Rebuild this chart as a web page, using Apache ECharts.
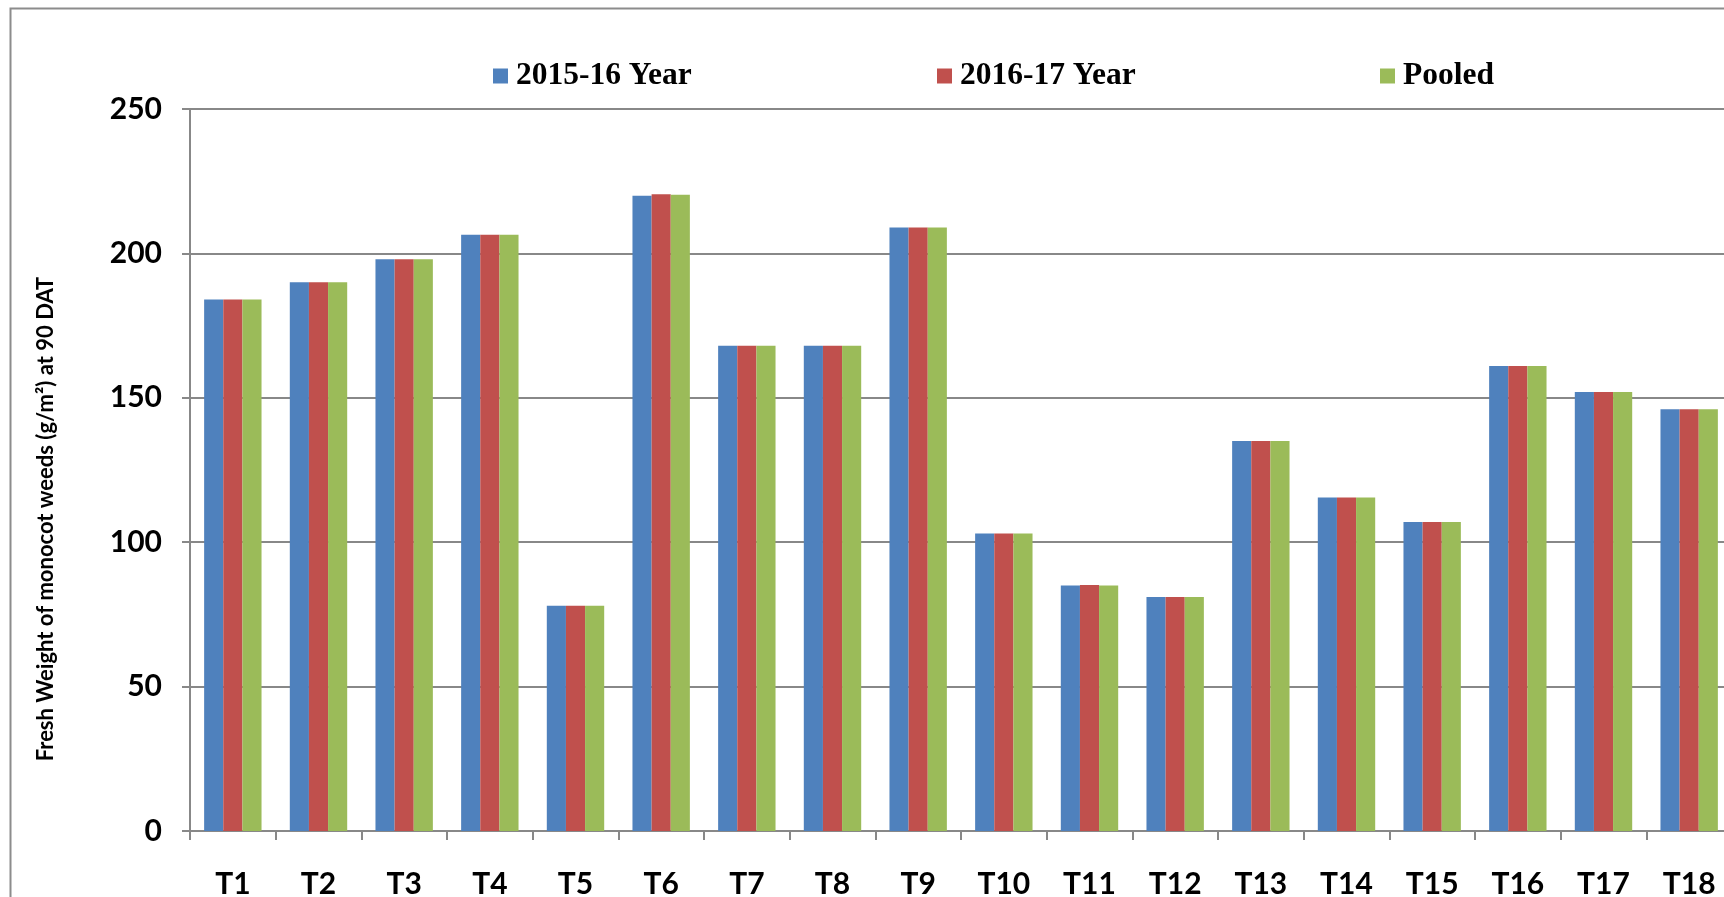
<!DOCTYPE html>
<html>
<head>
<meta charset="utf-8">
<script src="https://cdn.jsdelivr.net/npm/echarts@6/dist/echarts.min.js"></script>
<style>
  body { margin: 0; background: #fff; }
  #main { width: 1724px; height: 897px; }
</style>
</head>
<body>
<div id="main"></div>
<script>
var categories = ['T1','T2','T3','T4','T5','T6','T7','T8','T9','T10','T11','T12','T13','T14','T15','T16','T17','T18'];
var year1516 = [184, 190, 198, 206.5, 78, 220, 168, 168, 209, 103, 85, 81, 135, 115.5, 107, 161, 152, 146];
var year1617 = [184, 190, 198, 206.5, 78, 220.5, 168, 168, 209, 103, 85.2, 81, 135, 115.5, 107, 161, 152, 146];
var pooled = [184, 190, 198, 206.5, 78, 220.3, 168, 168, 209, 103, 85, 81, 135, 115.5, 107, 161, 152, 146];
var seriesNames = ['2015-16 Year', '2016-17 Year', 'Pooled'];
var colors = ['#4F81BD', '#C0504D', '#9BBB59'];
var yTicks = { min: 0, max: 250, interval: 50 };

var dom = document.getElementById("main");
var myChart = echarts.init(dom);

var legendLeft = [488, 932, 1375];
var legends = seriesNames.map(function(n, i){
    return {
        data: [n],
        left: legendLeft[i],
        top: 55,
        itemWidth: 15,
        itemHeight: 15,
        icon: 'rect',
        textStyle: {
            fontFamily: 'Liberation Serif',
            fontWeight: 'bold',
            fontSize: 31.5,
            color: '#000',
            padding: [0, 0, 0, 3]
        }
    };
});

function bar(name, data, color){
    return {
        name: name,
        type: 'bar',
        data: data,
        barGap: '0%',
        barCategoryGap: '33%',
        itemStyle: { color: color }
    };
}

var option = {
    animation: false,
    backgroundColor: '#fff',
    color: colors,
    legend: legends,
    graphic: [{
        type: 'rect',
        shape: { x: 10.5, y: 8.5, width: 1800, height: 1000 },
        style: { fill: 'none', stroke: '#8c8c8c', lineWidth: 2 },
        silent: true
    }],
    grid: {
        left: 190,
        right: -8,
        top: 109,
        bottom: 66,
        containLabel: false,
        outerBoundsMode: 'none'
    },
    xAxis: {
        type: 'category',
        data: categories,
        axisLine: { lineStyle: { color: '#888', width: 2 } },
        axisTick: { show: true, interval: 0, length: 9, lineStyle: { color: '#888', width: 2 } },
        axisLabel: {
            interval: 0,
            margin: 38,
            fontFamily: 'Lato',
            fontWeight: 'bold',
            fontSize: 30,
            color: '#000'
        }
    },
    yAxis: {
        type: 'value',
        min: yTicks.min,
        max: yTicks.max,
        interval: yTicks.interval,
        name: 'Fresh Weight of monocot weeds (g/m²) at 90 DAT',
        nameLocation: 'middle',
        nameGap: 133,
        nameTextStyle: {
            fontFamily: 'Lato',
            fontWeight: 'bold',
            fontSize: 22,
            color: '#000',
            padding: [0, 98, 0, 0]
        },
        axisLine: { show: true, lineStyle: { color: '#888', width: 2 } },
        axisTick: { show: true, length: 8, lineStyle: { color: '#888', width: 2 } },
        axisLabel: {
            margin: 28,
            fontFamily: 'Lato',
            fontWeight: 'bold',
            fontSize: 30,
            color: '#000'
        },
        splitLine: { lineStyle: { color: '#888', width: 2 } }
    },
    series: [
        bar(seriesNames[0], year1516, colors[0]),
        bar(seriesNames[1], year1617, colors[1]),
        bar(seriesNames[2], pooled, colors[2])
    ]
};
if (option && typeof option === "object") {
    myChart.setOption(option, true);
}
</script>
</body>
</html>
